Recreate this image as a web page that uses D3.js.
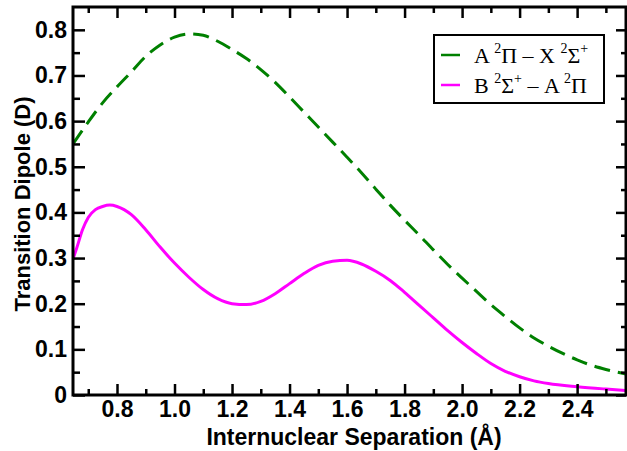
<!DOCTYPE html>
<html>
<head>
<meta charset="utf-8">
<script src="https://cdn.jsdelivr.net/npm/d3@7"></script>
<style>
  body { margin: 0; background: #fff; }
  svg { display: block; }
  .tick text { font-family: "Liberation Sans", Arial, sans-serif; font-weight: bold; font-size: 23px; fill: #000; }
  .axis path { display: none; }
  .axis line { stroke: #000; stroke-width: 2.5; }
</style>
</head>
<body>
<svg width="627" height="451"></svg>
<script>
// A 2Pi - X 2Sigma+ (green dashed)
const axR = [0.647, 0.70, 0.75, 0.80, 0.85, 0.90, 0.95, 1.00, 1.05, 1.10, 1.15, 1.20, 1.25, 1.30,
  1.35, 1.40, 1.45, 1.50, 1.55, 1.60, 1.65, 1.70, 1.75, 1.80, 1.85, 1.90, 1.95, 2.00, 2.05,
  2.10, 2.15, 2.20, 2.25, 2.30, 2.35, 2.40, 2.45, 2.50, 2.57];
const axDipole = [0.550, 0.598, 0.640, 0.675, 0.708, 0.742, 0.767, 0.784, 0.791, 0.788, 0.775, 0.757, 0.737, 0.713,
  0.685, 0.653, 0.620, 0.587, 0.554, 0.521, 0.487, 0.451, 0.416, 0.383, 0.351, 0.318, 0.286, 0.256, 0.227,
  0.198, 0.172, 0.147, 0.125, 0.107, 0.091, 0.077, 0.065, 0.056, 0.046];

// B 2Sigma+ - A 2Pi (magenta solid)
const baR = [0.647, 0.66, 0.68, 0.70, 0.725, 0.75, 0.775, 0.80, 0.85, 0.90, 0.95, 1.00, 1.05, 1.10, 1.15, 1.20,
  1.25, 1.30, 1.35, 1.40, 1.45, 1.50, 1.55, 1.60, 1.65, 1.70, 1.75, 1.80, 1.85, 1.90, 1.95,
  2.00, 2.05, 2.10, 2.15, 2.20, 2.25, 2.30, 2.40, 2.50, 2.57];
const baDipole = [0.298, 0.322, 0.362, 0.389, 0.406, 0.413, 0.416, 0.413, 0.395, 0.362, 0.324, 0.289, 0.258, 0.231, 0.211, 0.200,
  0.198, 0.205, 0.222, 0.244, 0.266, 0.284, 0.293, 0.295, 0.287, 0.271, 0.251, 0.225, 0.197, 0.169, 0.141,
  0.115, 0.091, 0.069, 0.052, 0.040, 0.031, 0.025, 0.018, 0.013, 0.010];

const xMajor = [0.8, 1.0, 1.2, 1.4, 1.6, 1.8, 2.0, 2.2, 2.4];
const xMinor = [0.7, 0.9, 1.1, 1.3, 1.5, 1.7, 1.9, 2.1, 2.3, 2.5];
const yMajor = [0, 0.1, 0.2, 0.3, 0.4, 0.5, 0.6, 0.7, 0.8];
const yMinor = [0.05, 0.15, 0.25, 0.35, 0.45, 0.55, 0.65, 0.75];

const plot = { left: 73, right: 626, top: 7, bottom: 395 };

const svg = d3.select("svg");
const x = d3.scaleLinear().domain([0.647, 2.57]).range([plot.left, plot.right]);
const y = d3.scaleLinear().domain([0, 0.85]).range([plot.bottom, plot.top]);

svg.append("clipPath").attr("id", "clip")
  .append("rect")
  .attr("x", plot.left).attr("y", plot.top)
  .attr("width", plot.right - plot.left).attr("height", plot.bottom - plot.top);

const line = d3.line()
  .x(d => x(d[0]))
  .y(d => y(d[1]))
  .curve(d3.curveMonotoneX);

const g = svg.append("g").attr("clip-path", "url(#clip)");
g.append("path")
  .datum(axR.map((r, i) => [r, axDipole[i]]))
  .attr("d", line)
  .attr("fill", "none")
  .attr("stroke", "#008000")
  .attr("stroke-width", 3)
  .attr("stroke-dasharray", "16,8");
g.append("path")
  .datum(baR.map((r, i) => [r, baDipole[i]]))
  .attr("d", line)
  .attr("fill", "none")
  .attr("stroke", "#ff00ff")
  .attr("stroke-width", 3);

const yFmt = d => d === 0 ? "0" : d3.format(".1f")(d);

// bottom
svg.append("g").attr("class", "axis").attr("transform", `translate(0,${plot.bottom})`)
  .call(d3.axisBottom(x).tickValues(xMajor).tickSize(-11).tickPadding(6).tickFormat(d3.format(".1f")));
svg.append("g").attr("class", "axis").attr("transform", `translate(0,${plot.bottom})`)
  .call(d3.axisBottom(x).tickValues(xMinor).tickSize(-6).tickFormat(""));
// top
svg.append("g").attr("class", "axis").attr("transform", `translate(0,${plot.top})`)
  .call(d3.axisTop(x).tickValues(xMajor).tickSize(-11).tickFormat(""));
svg.append("g").attr("class", "axis").attr("transform", `translate(0,${plot.top})`)
  .call(d3.axisTop(x).tickValues(xMinor).tickSize(-6).tickFormat(""));
// left
svg.append("g").attr("class", "axis").attr("transform", `translate(${plot.left},0)`)
  .call(d3.axisLeft(y).tickValues(yMajor).tickSize(-12).tickPadding(6).tickFormat(yFmt));
svg.append("g").attr("class", "axis").attr("transform", `translate(${plot.left},0)`)
  .call(d3.axisLeft(y).tickValues(yMinor).tickSize(-7).tickFormat(""));
// right
svg.append("g").attr("class", "axis").attr("transform", `translate(${plot.right},0)`)
  .call(d3.axisRight(y).tickValues(yMajor).tickSize(-10).tickFormat(""));
svg.append("g").attr("class", "axis").attr("transform", `translate(${plot.right},0)`)
  .call(d3.axisRight(y).tickValues(yMinor).tickSize(-5).tickFormat(""));

// frame
svg.append("rect")
  .attr("x", plot.left).attr("y", plot.top)
  .attr("width", plot.right - plot.left).attr("height", plot.bottom - plot.top)
  .attr("fill", "none").attr("stroke", "#000").attr("stroke-width", 3);

// axis titles
svg.append("text")
  .attr("x", 354).attr("y", 445)
  .attr("text-anchor", "middle")
  .attr("font-family", "Liberation Sans, Arial, sans-serif")
  .attr("font-weight", "bold").attr("font-size", 23)
  .text("Internuclear Separation (Å)");
svg.append("text")
  .attr("transform", "translate(30,204) rotate(-90)")
  .attr("text-anchor", "middle")
  .attr("font-family", "Liberation Sans, Arial, sans-serif")
  .attr("font-weight", "bold").attr("font-size", 22)
  .text("Transition Dipole (D)");

// legend
const leg = svg.append("g");
leg.append("rect")
  .attr("x", 434).attr("y", 35).attr("width", 170).attr("height", 68)
  .attr("fill", "#fff").attr("stroke", "#000").attr("stroke-width", 2);
const legItems = [
  { color: "#008000", parts: [["A ", 0], ["2", 1], ["Π – X ", 0], ["2", 1], ["Σ", 0], ["+", 1]] },
  { color: "#ff00ff", parts: [["B ", 0], ["2", 1], ["Σ", 0], ["+", 1], [" – A ", 0], ["2", 1], ["Π", 0]] }
];
legItems.forEach((it, i) => {
  const yy = 55 + i * 30;
  leg.append("line")
    .attr("x1", 441).attr("x2", 460).attr("y1", yy).attr("y2", yy)
    .attr("stroke", it.color).attr("stroke-width", 2.5);
  const t = leg.append("text")
    .attr("x", 474).attr("y", yy + 8)
    .attr("font-family", "Liberation Serif, Times New Roman, serif")
    .attr("font-size", 22);
  let shift = 0;
  it.parts.forEach(p => {
    const target = p[1] ? -10 : 0;
    t.append("tspan")
      .attr("font-size", p[1] ? 14 : 22)
      .attr("dy", target - shift)
      .text(p[0]);
    shift = target;
  });
});
</script>
</body>
</html>
